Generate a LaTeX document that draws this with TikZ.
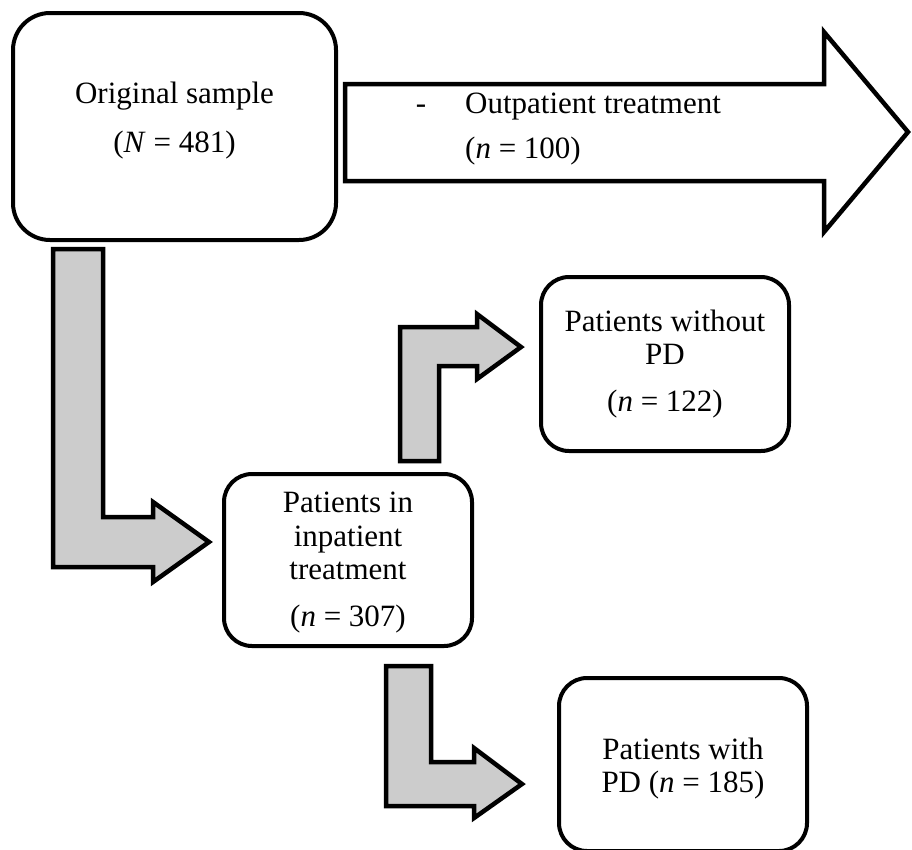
\documentclass[tikz,border=0pt]{standalone}
\usepackage{fontspec}
\setmainfont{Liberation Serif}
\definecolor{arrowgray}{RGB}{204,204,204}
\begin{document}
\begin{tikzpicture}[x=1pt,y=-1pt,
  box/.style={draw, line width=4pt, rounded corners=28pt, fill=white,
    inner sep=0pt, minimum width=248pt},
  blockarrow/.style={draw, line width=4.5pt, fill=arrowgray, line join=miter},
  outarrow/.style={draw, line width=4.5pt, fill=white, line join=miter},
  txt/.style={font=\fontsize{31}{33.5}\selectfont, inner sep=0pt, align=center}]
\useasboundingbox (0,0) rectangle (912,849);

% boxes
\node[box, rounded corners=37pt, minimum width=323pt, minimum height=227pt] (orig) at (174.5,126.5) {};
\node[box, minimum height=172pt] (inpat) at (348,560) {};
\node[box, minimum height=174pt] (nopd) at (665,364) {};
\node[box, minimum height=173pt] (withpd) at (683,764.5) {};

\node[txt] (origtxt) at ([yshift=6pt]orig.center) {Original sample\\[16pt](\textit{N} = 481)};
\node[txt] (inpattxt) at ([yshift=-3pt]inpat.center) {Patients in\\inpatient\\treatment\\[13.5pt](\textit{n} = 307)};
\node[txt] (nopdtxt) at (nopd.center) {Patients without\\PD\\[13pt](\textit{n} = 122)};
\node[txt] (withpdtxt) at ([yshift=-4pt]withpd.center) {Patients with\\PD (\textit{n} = 185)};

% big outlined arrow (outpatient)
\draw[outarrow] (345,84) -- (824,84) -- (824,32) -- (908,132) -- (824,232) -- (824,181) -- (345,181) -- cycle;
\node[txt, anchor=base] (dash) at (421,113) {-};
\node[txt, anchor=base west] (outa) at (465,113) {Outpatient treatment};
\node[txt, anchor=base west] (outb) at (465,158) {(\textit{n} = 100)};

% grey L-shaped arrows
\draw[blockarrow] (53,249) -- (103,249) -- (103,517) -- (153,517) -- (153,502) -- (209,542)
  -- (153,582) -- (153,567) -- (53,567) -- cycle;
\draw[blockarrow] (400,461) -- (400,327) -- (477,327) -- (477,314) -- (521,347) -- (477,379)
  -- (477,366) -- (439,366) -- (439,461) -- cycle;
\draw[blockarrow] (386,666) -- (431,666) -- (431,762) -- (474,762) -- (474,748) -- (522,784)
  -- (474,818) -- (474,806) -- (386,806) -- cycle;
\end{tikzpicture}
\end{document}
